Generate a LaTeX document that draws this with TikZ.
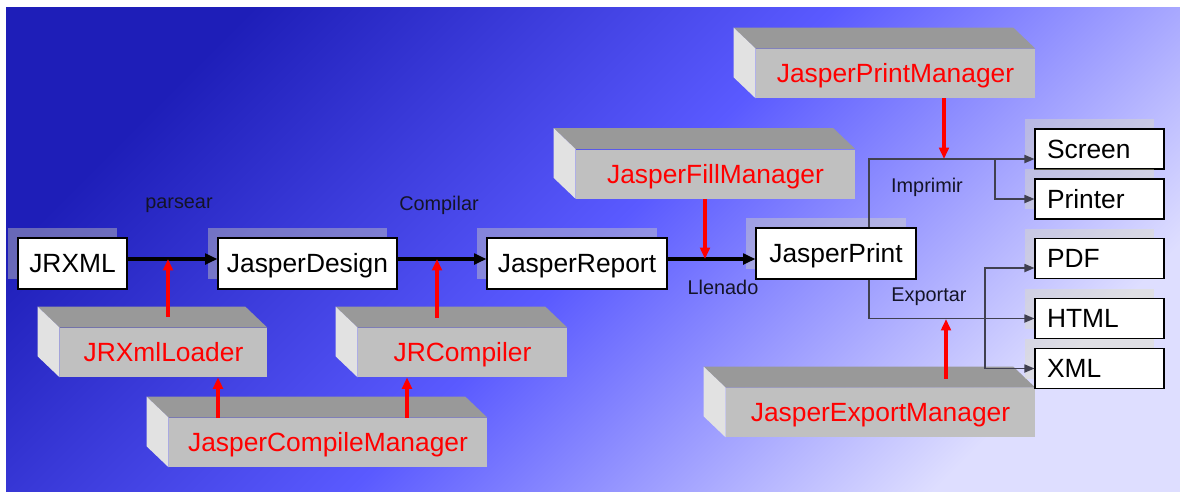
\documentclass[tikz,border=0pt]{standalone}
\usepackage{fontspec}
\setmainfont{Liberation Sans}
\usepackage{tikz}
\usetikzlibrary{calc,positioning,arrows.meta,shadows}

\definecolor{bgdark}{RGB}{30,30,184}
\definecolor{bgmid}{RGB}{90,90,255}
\definecolor{bglight}{RGB}{222,222,255}
\definecolor{shadowgray}{RGB}{225,225,185}
\definecolor{frontgray}{RGB}{192,192,192}
\definecolor{topgray}{RGB}{153,153,153}
\definecolor{sidegray}{RGB}{226,226,226}
\definecolor{linegray}{RGB}{64,64,80}
\definecolor{notecolor}{RGB}{20,20,40}

\tikzset{
    box/.style={
        rectangle,
        draw=black, line width=0.6pt,
        fill=white,
        minimum height=1.02cm,
        inner sep=0pt,
        text height=10.7pt, text depth=0pt,
        font={\fontsize{15pt}{18pt}\selectfont},
        drop shadow={shadow xshift=-0.2cm, shadow yshift=0.2cm,
            fill=shadowgray, opacity=0.38}
    },
    outbox/.style={
        box,
        minimum height=0.8cm,
        text width=2.1cm,
        inner xsep=0.24cm,
        align=left
    },
    manager/.style={
        rectangle,
        fill=frontgray,
        text=red,
        minimum height=0.98cm,
        inner sep=0pt,
        text height=10.7pt, text depth=0pt,
        font={\fontsize{15pt}{18pt}\selectfont}
    },
    topface/.style={fill=topgray},
    sideface/.style={fill=sidegray},
    mainflow/.style={draw=black, line width=1.8pt, -{Triangle[length=7pt,width=6pt]}},
    redflow/.style={draw=red, line width=1.9pt, -{Triangle[length=6.5pt,width=5.5pt]}},
    branch/.style={draw=linegray, line width=0.85pt, -{Triangle[length=5.7pt,width=4.6pt]}},
    note/.style={text=notecolor, font={\fontsize{11.3pt}{13pt}\selectfont}},
}

\begin{document}
\begin{tikzpicture}[x=0.02cm, y=-0.02cm]

\useasboundingbox (0,0) rectangle (1180,491);
\shade[left color=bgdark, right color=bglight, middle color=bgmid, shading angle=45]
  (6,7) rectangle (1180,491);

% grey blocks with top and side faces
\foreach \n/\x/\y/\w/\t in {loader/163.5/352.5/207/JRXmlLoader,
    compiler/462.5/352.5/209/JRCompiler,
    cmgr/328/442.5/318/JasperCompileManager,
    fillmgr/715.5/174/279/JasperFillManager,
    printmgr/895.5/73.5/279/JasperPrintManager,
    exportmgr/880.5/412.5/309/JasperExportManager}
{
  \node [manager, minimum width=\w*0.02cm] (\n) at (\x,\y) {\t};
  \fill [topface] (\n.north west) -- ([shift={(-22,-21)}]\n.north west)
    -- ([shift={(-22,-21)}]\n.north east) -- (\n.north east) -- cycle;
  \fill [sideface] (\n.north west) -- ([shift={(-22,-21)}]\n.north west)
    -- ([shift={(-22,-21)}]\n.south west) -- (\n.south west) -- cycle;
}

\foreach \n/\x/\y/\w/\t in {jrxml/72.5/263.5/109/JRXML,
    design/307.5/263.5/179/JasperDesign,
    report/577/263.5/180/JasperReport,
    print/836/253.5/160/JasperPrint}
  \node [box, minimum width=\w*0.02cm] (\n) at (\x,\y) {\t};

\foreach \n/\y/\t in {screen/149/Screen, printer/199/Printer,
    pdf/258.5/PDF, html/318.5/HTML, xml/368.5/XML}
  \node [outbox] (\n) at (1099.5,\y) {\t};

% junctions
\coordinate (parse) at (168,259);
\coordinate (comp) at (437,259);
\coordinate (fill) at (705,259);
\coordinate (imp) at (944,159);
\coordinate (exp) at (946,319);
\coordinate (cl) at (218,0);
\coordinate (cr) at (407,0);
\coordinate (tap) at (869,159);
\coordinate (fork) at (995,159);
\coordinate (etap) at (869,319);
\coordinate (efork) at (985,319);

\draw [mainflow] (jrxml.east |- parse) -- (design.west |- parse);
\draw [mainflow] (design.east |- comp) -- (report.west |- comp);
\draw [mainflow] (report.east |- fill) -- (print.west |- fill);

\draw [redflow] ($(loader.north -| parse)+(0,-11)$) -- (parse);
\draw [redflow] ($(compiler.north -| comp)+(0,-10)$) -- (comp);
\draw [redflow] (cmgr.north -| cl) -- (loader.south -| cl);
\draw [redflow] (cmgr.north -| cr) -- (compiler.south -| cr);
\draw [redflow] (fillmgr.south -| fill) -- (fill);
\draw [redflow] (printmgr.south -| imp) -- (imp);
\draw [redflow] ($(exportmgr.north -| exp)+(0,-9)$) -- (exp);

\draw [branch] (print.north -| tap) -- (tap) -- (screen.west |- tap);
\draw [branch] (fork) |- (printer.west);
\draw [branch] (print.south -| etap) |- (html.west);
\draw [branch] (efork) |- ($(pdf.west)+(0,9.5)$);
\draw [branch] (efork) |- (xml.west);

\foreach \t/\x/\y in {parsear/179/205, Compilar/439/205, Llenado/723/287,
    Imprimir/927/187, Exportar/929/297}
  \node [note] (lbl-\t) at (\x,\y) {\t};

\end{tikzpicture}
\end{document}
